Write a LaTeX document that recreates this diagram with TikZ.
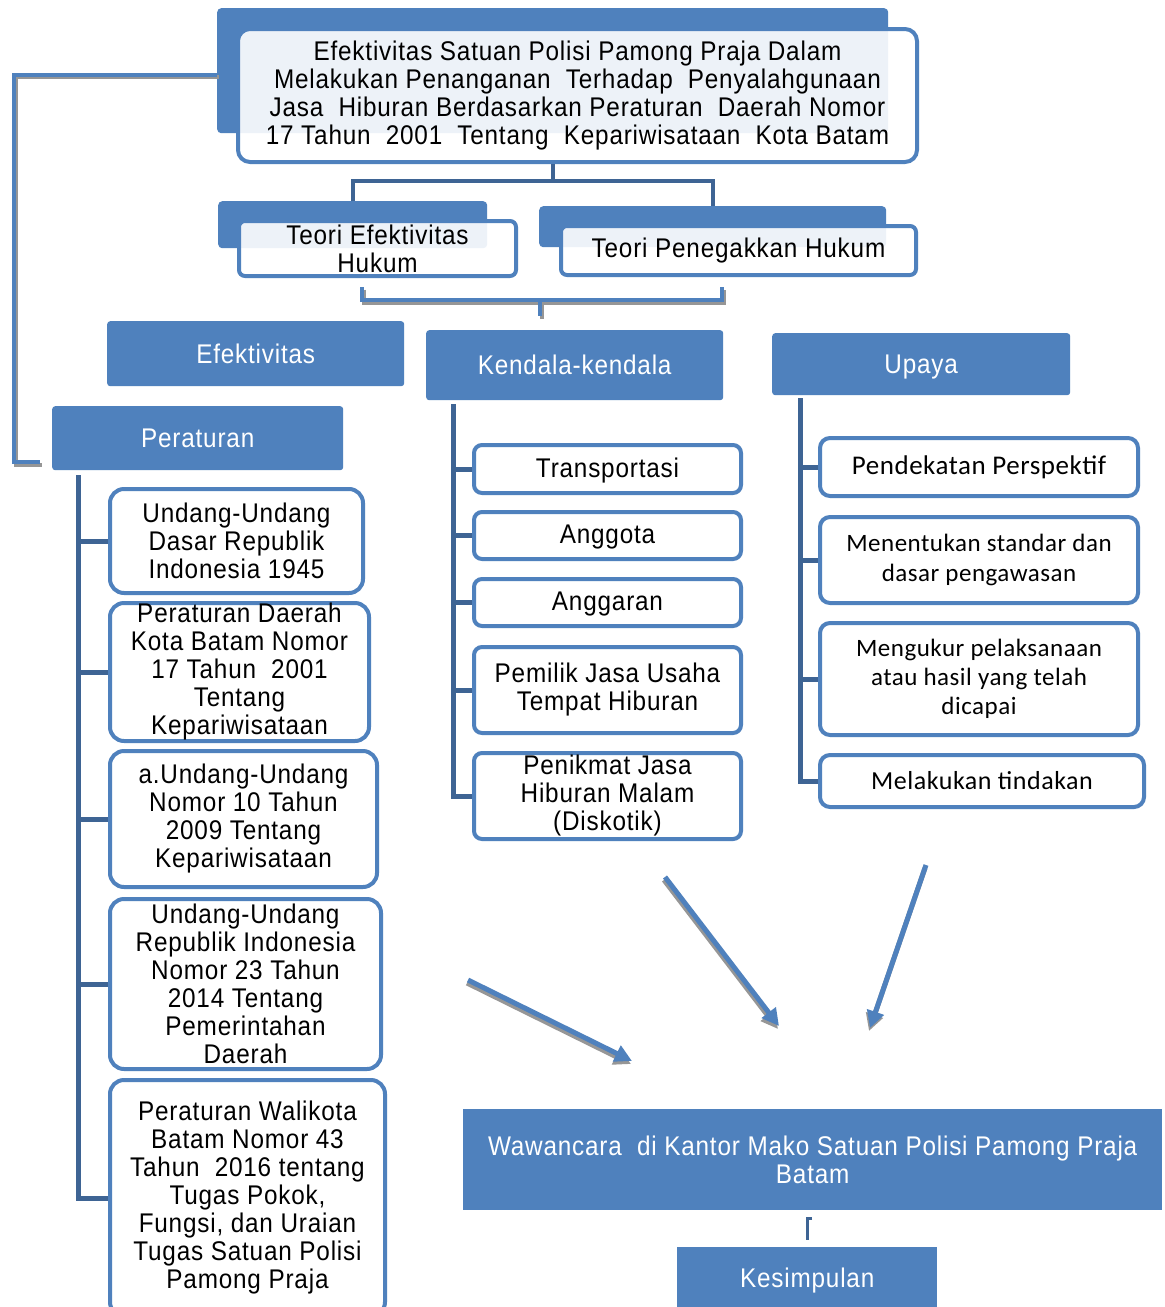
\documentclass[tikz,border=0pt]{standalone}
\usepackage{fontspec}
\setmainfont{Liberation Sans}[FakeStretch=0.9,LetterSpace=3]
\newfontfamily\carl{Carlito}[LetterSpace=2]
\usetikzlibrary{arrows.meta,calc}
\definecolor{myblue}{RGB}{79,129,189}
\definecolor{dline}{RGB}{62,100,148}
\definecolor{shade}{RGB}{150,150,150}
\newcommand\mainsz{\fontsize{27}{28}\selectfont}
\begin{document}
\begin{tikzpicture}[x=1pt,y=-1pt,
  blueback/.style={fill=myblue, rounded corners=4pt, inner sep=0pt, anchor=north west},
  frontbox/.style={draw=myblue, line width=4pt, fill=white, fill opacity=0.9, text opacity=1, rounded corners=12pt, align=center, inner sep=0pt, anchor=north west, font=\mainsz},
  catbox/.style={fill=myblue, rounded corners=3pt, text=white, align=center, inner sep=0pt, anchor=north west, font=\mainsz, text depth=0pt},
  lbox/.style={draw=myblue, line width=4pt, fill=white, rounded corners=14pt, align=center, inner sep=0pt, anchor=north west, font=\mainsz},
  mbox/.style={lbox, rounded corners=8pt},
  rbox/.style={lbox, rounded corners=10pt},
  oneline/.style={text depth=2pt},
  sqbox/.style={fill=myblue, text=white, align=center, inner sep=0pt, anchor=north west, font=\mainsz},
  colline/.style={draw=dline, line width=5pt},
  lconn/.style={draw=myblue, line width=4pt},
  lshadow/.style={draw=shade, line width=4pt},
  arrowline/.style={draw=myblue, line width=5pt, -{Triangle[length=17pt,width=17pt]}},
  arrowshadow/.style={draw=shade, line width=5pt, -{Triangle[length=17pt,width=17pt]}}
]
\useasboundingbox (0,0) rectangle (1165,1307);
\clip (0,0) rectangle (1165,1307);
\fill[white] (0,0) rectangle (1165,1307);

% top box
\node[blueback, minimum width=671pt, minimum height=125pt] (topback) at (217,8) {};
\node[frontbox, minimum width=679pt, minimum height=133pt] (top) at (236,27)
 {Efektivitas Satuan Polisi Pamong Praja Dalam\\
  Melakukan Penanganan\ \ Terhadap\ \ Penyalahgunaan\\
  Jasa\ \ Hiburan Berdasarkan Peraturan\ \ Daerah Nomor\\
  17 Tahun\ \ 2001\ \ Tentang\ \ Kepariwisataan\ \ Kota Batam};

% theory boxes
\node[blueback, minimum width=269pt, minimum height=47pt] (tlb) at (218,201) {};
\node[frontbox, rounded corners=6pt, minimum width=277pt, minimum height=55pt] (tlf) at (237,219) {Teori Efektivitas\\Hukum};
\node[blueback, minimum width=347pt, minimum height=41pt] (trb) at (539,206) {};
\node[frontbox, rounded corners=6pt, minimum width=355pt, minimum height=49pt] (trf) at (559,224) {Teori Penegakkan Hukum};

% connectors top
\coordinate (j) at (553,181);
\draw[colline, line width=4pt] (top.south -| j) -- (j);
\draw[colline, line width=4pt] (tlb.north) |- (j) -| (trb.north);

% bracket
\coordinate (b1) at (362,287);
\coordinate (b2) at (362,300);
\coordinate (b3) at (722,300);
\coordinate (b4) at (722,287);
\coordinate (bs1) at (540,300);
\coordinate (bs2) at (540,316);
\draw[lshadow] ([shift={(2,2.5)}]b1) -- ([shift={(2,2.5)}]b2) -- ([shift={(2,2.5)}]b3) -- ([shift={(2,2.5)}]b4);
\draw[lshadow] ([shift={(2,2.5)}]bs1) -- ([shift={(2,2.5)}]bs2);
\draw[lconn] (b1) -- (b2) -- (b3) -- (b4);
\draw[lconn] (bs1) -- (bs2);

% category boxes
\node[catbox, minimum width=297pt, minimum height=65pt] (efek) at (107,321) {Efektivitas};
\node[catbox, minimum width=297pt, minimum height=70pt] (kend) at (426,330) {Kendala-kendala};
\node[catbox, minimum width=298pt, minimum height=62pt] (upaya) at (772,333) {Upaya};
\node[catbox, minimum width=291pt, minimum height=64pt] (perat) at (52,406) {Peraturan};

% left connector
\coordinate (ls) at ($(topback.west)+(0,4)$);
\coordinate (lc) at (14,462);
\coordinate (lend) at (40,462);
\draw[lshadow] ([shift={(2,2.5)}]ls) -| ([shift={(2,2.5)}]lc) -- ([shift={(2,2.5)}]lend);
\draw[lconn] (ls) -| (lc) -- (lend);

% left column
\node[lbox, minimum width=253pt, minimum height=104pt] (l1) at (108,487) {Undang-Undang\\Dasar Republik\\Indonesia 1945};
\node[lbox, minimum width=259pt, minimum height=138pt] (l2) at (108,601) {Peraturan Daerah\\Kota Batam Nomor\\17 Tahun\ \ 2001\\Tentang\\Kepariwisataan};
\node[lbox, minimum width=267pt, minimum height=136pt] (l3) at (108,749) {a.Undang-Undang\\Nomor 10 Tahun\\2009 Tentang\\Kepariwisataan};
\node[lbox, minimum width=271pt, minimum height=170pt] (l4) at (108,897) {Undang-Undang\\Republik Indonesia\\Nomor 23 Tahun\\2014 Tentang\\Pemerintahan\\Daerah};
\node[lbox, minimum width=275pt, minimum height=236pt] (l5) at (108,1078) {Peraturan\ Walikota\\Batam Nomor 43\\Tahun\ \ 2016 tentang\\Tugas Pokok,\\Fungsi, dan Uraian\\Tugas Satuan Polisi\\Pamong Praja};
\coordinate (lv) at (78,475);
\foreach \b in {l1,l2,l3,l4,l5} \draw[colline] (lv) |- (\b.west);

% middle column
\node[mbox, minimum width=267pt, minimum height=48pt, oneline] (m1) at (472,443) {Transportasi};
\node[mbox, minimum width=267pt, minimum height=47pt, oneline] (m2) at (472,510) {Anggota};
\node[mbox, minimum width=267pt, minimum height=47pt, oneline] (m3) at (472,577) {Anggaran};
\node[mbox, minimum width=267pt, minimum height=86pt] (m4) at (472,645) {Pemilik Jasa Usaha\\Tempat Hiburan};
\node[mbox, minimum width=267pt, minimum height=86pt] (m5) at (472,751) {Penikmat Jasa\\Hiburan Malam\\(Diskotik)};
\coordinate (mv) at (453,404);
\foreach \b in {m1,m2,m3,m4,m5} \draw[colline] (mv) |- (\b.west);

% right column
\node[rbox, minimum width=318pt, minimum height=58pt, font=\carl\fontsize{27}{29}\selectfont] (r1) at (818,436) {Pendekatan Perspektif};
\node[rbox, minimum width=318pt, minimum height=86pt, font=\carl\fontsize{25}{30}\selectfont] (r2) at (818,515) {Menentukan standar\ dan\\dasar pengawasan};
\node[rbox, minimum width=318pt, minimum height=112pt, font=\carl\fontsize{25}{29}\selectfont] (r3) at (818,621) {Mengukur pelaksanaan\\atau hasil yang telah\\dicapai};
\node[rbox, minimum width=324pt, minimum height=52pt, font=\carl\fontsize{26}{29}\selectfont] (r4) at (818,753) {Melakukan tindakan};
\coordinate (rv) at (800,398);
\foreach \b in {r1,r2,r3,r4} \draw[colline] (rv) |- (\b.west);

% arrows
\coordinate (a1s) at (468,980); \coordinate (a1e) at (632,1061);
\coordinate (a2s) at (665,877); \coordinate (a2e) at (779,1026);
\coordinate (a3s) at (926,865); \coordinate (a3e) at (870,1028);
\foreach \s/\e in {a1s/a1e,a2s/a2e,a3s/a3e}
  \draw[arrowshadow] ([shift={(-1,3)}]\s) -- ([shift={(-1,3)}]\e);
\draw[arrowline] (a1s) -- (a1e);
\draw[arrowline] (a2s) -- (a2e);
\draw[arrowline] (a3s) -- (a3e);

% bottom
\node[sqbox, minimum width=699pt, minimum height=101pt] (waw) at (463,1109) {Wawancara\ \ di Kantor Mako Satuan\ Polisi Pamong Praja\\Batam};
\node[sqbox, minimum width=260pt, minimum height=62pt, text depth=0pt] (kes) at (677,1247) {Kesimpulan};
\coordinate (k1) at (812,1218); \coordinate (k2) at (807.5,1218); \coordinate (k3) at (807.5,1240);
\draw[colline, line width=3pt] (k1) -- (k2) -- (k3);
\end{tikzpicture}
\end{document}
